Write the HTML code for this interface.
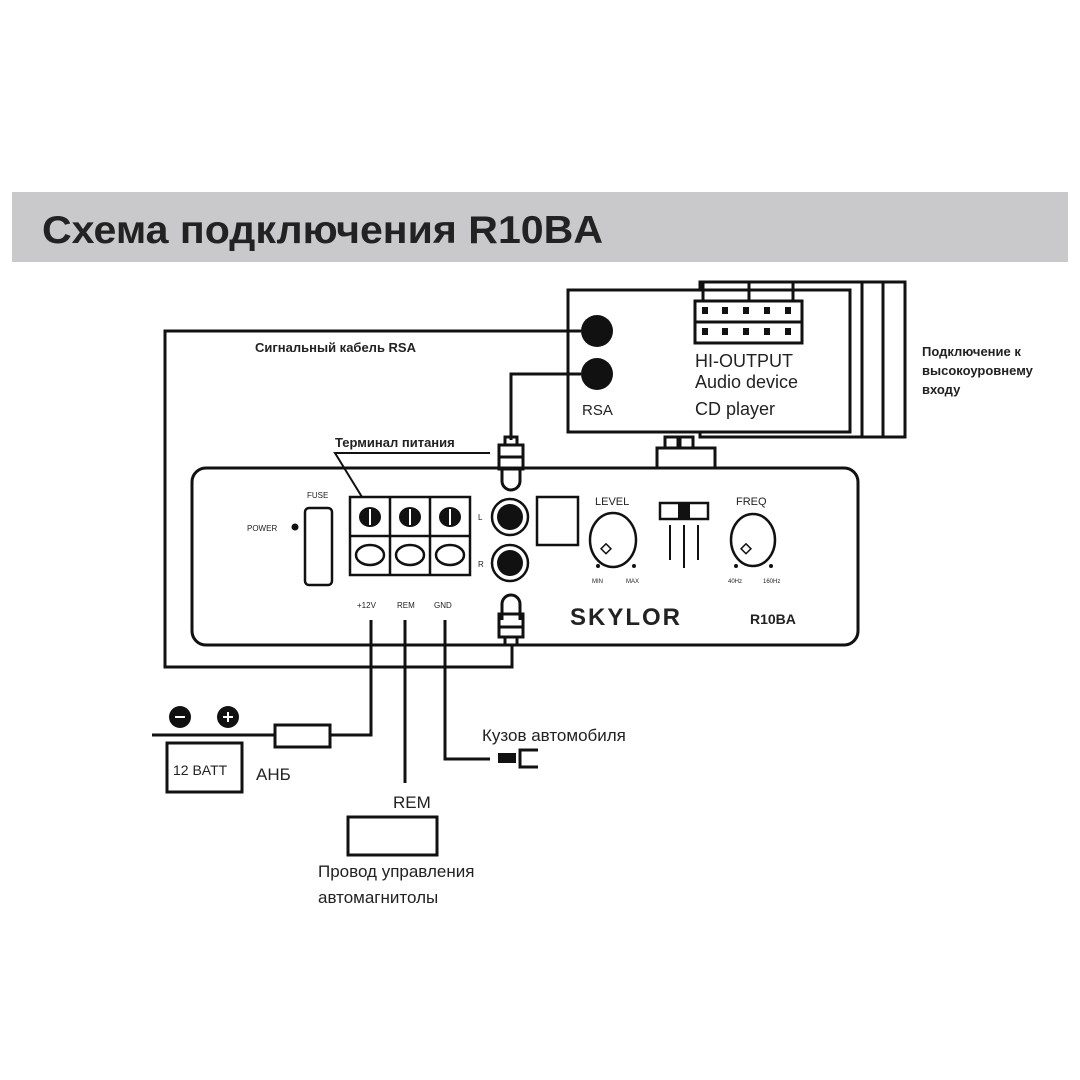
<!DOCTYPE html>
<html><head><meta charset="utf-8"><style>
html,body{margin:0;padding:0;background:#fff}
svg{display:block}
text{font-family:"Liberation Sans","DejaVu Sans",sans-serif;fill:#222}
</style></head><body>
<svg width="1080" height="1080" viewBox="0 0 1080 1080" xmlns="http://www.w3.org/2000/svg">
<rect x="0" y="0" width="1080" height="1080" fill="#fff"/>
<rect x="12" y="192" width="1056" height="70" fill="#c9c9cb"/>
<text x="42" y="243" font-size="39" font-weight="bold" fill="#111" textLength="561" lengthAdjust="spacingAndGlyphs">Схема подключения R10BA</text>

<g fill="none" stroke="#111" stroke-width="3">
<rect x="700" y="282" width="205" height="155" fill="#fff"/>
<line x1="883" y1="282" x2="883" y2="437"/>
<line x1="862" y1="282" x2="862" y2="437"/>
<rect x="568" y="290" width="282" height="142" fill="#fff"/>
<line x1="703" y1="282" x2="703" y2="301"/>
<line x1="749" y1="282" x2="749" y2="301"/>
<line x1="793" y1="282" x2="793" y2="301"/>
<rect x="695" y="301" width="107" height="42" fill="#fff"/>
<line x1="695" y1="322" x2="802" y2="322"/>
<rect x="665" y="437" width="13" height="11"/>
<rect x="680" y="437" width="13" height="11"/>
<rect x="657" y="448" width="58" height="20" fill="#fff"/>
<polyline points="581,331 165,331 165,667 512,667 512,640"/>
<polyline points="581,374 511,374 511,440"/>
<rect x="192" y="468" width="666" height="177" rx="14" fill="#fff"/>
<rect x="505" y="437" width="12" height="8"/>
<rect x="499" y="445" width="24" height="12"/>
<rect x="499" y="457" width="24" height="12"/>
<path d="M502 469 v12 a9 9 0 0 0 18 0 v-12"/>
<path d="M502 620 v-16 a9 9 0 0 1 18 0 v16"/>
<rect x="499" y="614" width="24" height="13"/>
<rect x="499" y="627" width="24" height="10"/>
<rect x="505" y="637" width="12" height="8"/>
<rect x="350" y="497" width="120" height="78" stroke-width="2.5"/>
<line x1="390" y1="497" x2="390" y2="575" stroke-width="2.5"/>
<line x1="430" y1="497" x2="430" y2="575" stroke-width="2.5"/>
<line x1="350" y1="536" x2="470" y2="536" stroke-width="2.5"/>
<ellipse cx="370" cy="555" rx="14" ry="10" stroke-width="2.5"/>
<ellipse cx="410" cy="555" rx="14" ry="10" stroke-width="2.5"/>
<ellipse cx="450" cy="555" rx="14" ry="10" stroke-width="2.5"/>
<polyline points="490,453 335,453 362,497" stroke-width="2"/>
<rect x="305" y="508" width="27" height="77" rx="4" stroke-width="2.5"/>
<circle cx="510" cy="517" r="18" stroke-width="2.5"/>
<circle cx="510" cy="563" r="18" stroke-width="2.5"/>
<rect x="537" y="497" width="41" height="48" stroke-width="2.5"/>
<ellipse cx="613" cy="540" rx="23" ry="27" stroke-width="2.5"/>
<ellipse cx="753" cy="540" rx="22" ry="26" stroke-width="2.5"/>
<rect x="603" y="545" width="7" height="7" stroke-width="1.5" transform="rotate(45 606 548)"/>
<rect x="743" y="545" width="7" height="7" stroke-width="1.5" transform="rotate(45 746 548)"/>
<rect x="660" y="503" width="48" height="16" stroke-width="2.5"/>
<line x1="670" y1="525" x2="670" y2="560" stroke-width="2"/>
<line x1="684" y1="525" x2="684" y2="568" stroke-width="2"/>
<line x1="698" y1="525" x2="698" y2="560" stroke-width="2"/>
<polyline points="371,620 371,735 152,735"/>
<line x1="405" y1="620" x2="405" y2="783"/>
<polyline points="445,620 445,759 490,759"/>
<rect x="275" y="725" width="55" height="22" fill="#fff"/>
<rect x="167" y="743" width="75" height="49"/>
<rect x="348" y="817" width="89" height="38"/>
<path d="M538 750 h-18 v17 h18"/>
</g>
<g fill="#111">
<circle cx="597" cy="331" r="16"/>
<circle cx="597" cy="374" r="16"/>
<rect x="702" y="307" width="6" height="7"/><rect x="722" y="307" width="6" height="7"/><rect x="743" y="307" width="6" height="7"/><rect x="764" y="307" width="6" height="7"/><rect x="785" y="307" width="6" height="7"/>
<rect x="702" y="328" width="6" height="7"/><rect x="722" y="328" width="6" height="7"/><rect x="743" y="328" width="6" height="7"/><rect x="764" y="328" width="6" height="7"/><rect x="785" y="328" width="6" height="7"/>
<circle cx="510" cy="517" r="13"/>
<circle cx="510" cy="563" r="13"/>
<ellipse cx="370" cy="517" rx="11" ry="10"/>
<ellipse cx="410" cy="517" rx="11" ry="10"/>
<ellipse cx="450" cy="517" rx="11" ry="10"/>
<circle cx="295" cy="527" r="3.5"/>
<rect x="678" y="504" width="12" height="14"/>
<circle cx="598" cy="566" r="2"/><circle cx="634" cy="566" r="2"/>
<circle cx="736" cy="566" r="2"/><circle cx="771" cy="566" r="2"/>
<circle cx="180" cy="717" r="11"/><circle cx="228" cy="717" r="11"/>
<rect x="498" y="753" width="18" height="10"/>
</g>
<g stroke="#fff" stroke-width="2">
<line x1="370" y1="509" x2="370" y2="525"/><line x1="410" y1="509" x2="410" y2="525"/><line x1="450" y1="509" x2="450" y2="525"/>
<line x1="175" y1="717" x2="185" y2="717"/>
<line x1="223" y1="717" x2="233" y2="717"/><line x1="228" y1="712" x2="228" y2="722"/>
</g>

<text x="255" y="352" font-size="13" font-weight="bold">Сигнальный кабель RSA</text>
<text x="335" y="447" font-size="13" font-weight="bold">Терминал питания</text>
<text x="922" y="356" font-size="13" font-weight="bold">Подключение к</text>
<text x="922" y="375" font-size="13" font-weight="bold">высокоуровнему</text>
<text x="922" y="394" font-size="13" font-weight="bold">входу</text>
<text x="695" y="367" font-size="18" fill="#333">HI-OUTPUT</text>
<text x="695" y="388" font-size="18" fill="#333">Audio device</text>
<text x="695" y="415" font-size="18" fill="#333">CD player</text>
<text x="582" y="415" font-size="15" fill="#333">RSA</text>
<text x="307" y="498" font-size="8" fill="#444">FUSE</text>
<text x="247" y="531" font-size="8" fill="#444">POWER</text>
<text x="478" y="520" font-size="8" fill="#444">L</text>
<text x="478" y="567" font-size="8" fill="#444">R</text>
<text x="595" y="505" font-size="11" fill="#333">LEVEL</text>
<text x="736" y="505" font-size="11" fill="#333">FREQ</text>
<text x="592" y="583" font-size="6" fill="#444">MIN</text>
<text x="626" y="583" font-size="6" fill="#444">MAX</text>
<text x="728" y="583" font-size="6" fill="#444">40Hz</text>
<text x="763" y="583" font-size="6" fill="#444">160Hz</text>
<text x="357" y="608" font-size="8" fill="#444">+12V</text>
<text x="397" y="608" font-size="8" fill="#444">REM</text>
<text x="434" y="608" font-size="8" fill="#444">GND</text>
<text x="570" y="625" font-size="24" font-weight="bold" letter-spacing="2">SKYLOR</text>
<text x="750" y="624" font-size="14" font-weight="bold">R10BA</text>
<text x="173" y="775" font-size="14" fill="#333">12 BATT</text>
<text x="256" y="780" font-size="17" fill="#333">АНБ</text>
<text x="482" y="741" font-size="17" fill="#333">Кузов автомобиля</text>
<text x="393" y="808" font-size="17" fill="#333">REM</text>
<text x="318" y="877" font-size="17" fill="#333">Провод управления</text>
<text x="318" y="903" font-size="17" fill="#333">автомагнитолы</text>
</svg>
</body></html>
